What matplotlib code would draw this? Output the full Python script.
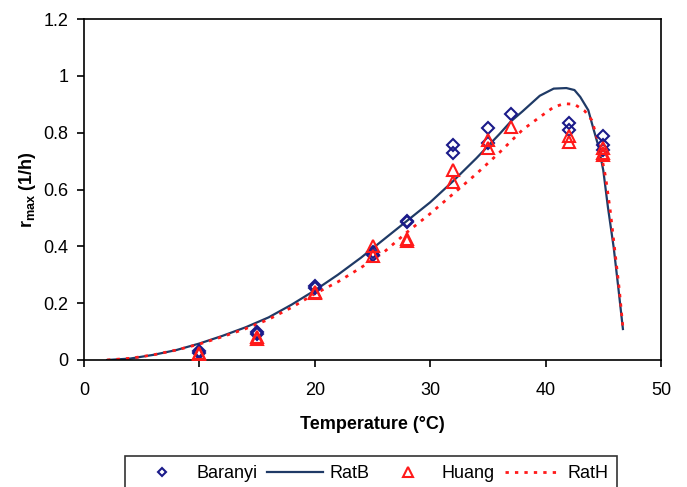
import matplotlib
matplotlib.use("Agg")
import matplotlib.pyplot as plt
from matplotlib.lines import Line2D

# ---- data ----
baranyi_T = [10, 10, 15, 15, 20, 20, 25, 25, 28, 28, 32, 32, 35, 35, 37, 42, 42, 45, 45, 45]
baranyi_r = [0.03, 0.025, 0.10, 0.09, 0.26, 0.255, 0.38, 0.37, 0.49, 0.485,
             0.755, 0.727, 0.815, 0.762, 0.865, 0.833, 0.808, 0.79, 0.755, 0.74]

huang_T = [10, 10, 15, 15, 20, 20, 25, 25, 28, 28, 32, 32, 35, 35, 37, 42, 42, 45, 45, 45]
huang_r = [0.025, 0.02, 0.08, 0.075, 0.24, 0.235, 0.40, 0.365, 0.425, 0.42,
           0.667, 0.625, 0.773, 0.745, 0.82, 0.79, 0.766, 0.745, 0.73, 0.72]

ratB_T = [2, 4, 6, 8, 10, 12, 14, 16, 18, 20, 22, 24, 26, 28, 30, 32, 34, 36, 37, 38,
          39.5, 40.7, 41.8, 42.5, 43.0, 43.7, 44.1, 44.6, 45.0, 45.4, 45.9, 46.3, 46.7]
ratB_r = [0, 0.005, 0.018, 0.035, 0.058, 0.085, 0.115, 0.15, 0.195, 0.245, 0.30, 0.36,
          0.425, 0.49, 0.555, 0.63, 0.71, 0.795, 0.84, 0.875,
          0.93, 0.955, 0.957, 0.95, 0.926, 0.879, 0.82, 0.749, 0.667, 0.538, 0.396, 0.255, 0.109]

ratH_T = [2, 4, 6, 8, 10, 12, 14, 16, 18, 20, 22, 24, 26, 28, 30, 32, 34, 36, 37, 38,
          39.5, 40.7, 41.6, 42.5, 43.4, 44.0, 44.4, 44.8, 45.2, 45.6, 46.0, 46.4, 46.7]
ratH_r = [0, 0.006, 0.018, 0.035, 0.056, 0.082, 0.11, 0.143, 0.185, 0.233, 0.275, 0.325,
          0.38, 0.45, 0.515, 0.585, 0.655, 0.73, 0.77, 0.81,
          0.855, 0.89, 0.902, 0.9, 0.876, 0.844, 0.79, 0.727, 0.644, 0.526, 0.385, 0.243, 0.114]

x_ticks = [0, 10, 20, 30, 40, 50]
y_ticks = [0, 0.2, 0.4, 0.6, 0.8, 1.0, 1.2]
y_ticklabels = ["0", "0.2", "0.4", "0.6", "0.8", "1", "1.2"]
legend_labels = ['Baranyi', 'RatB', 'Huang', 'RatH']

# ---- style ----
plt.rcParams['font.family'] = ['Liberation Sans', 'DejaVu Sans']
plt.rcParams['mathtext.fontset'] = 'custom'
plt.rcParams['mathtext.rm'] = 'Liberation Sans'
plt.rcParams['mathtext.bf'] = 'Liberation Sans:bold'
FS = 13

navy = '#1a1a8a'
line_blue = '#1f3a66'
red = '#ff1a1a'

fig = plt.figure(figsize=(6.87, 4.87), dpi=100)
ax = fig.add_axes([84/687, 1 - 360/487, (661 - 84)/687, (360 - 19)/487])

lB, = ax.plot(ratB_T, ratB_r, color=line_blue, lw=1.6, zorder=2)
lH, = ax.plot(ratH_T, ratH_r, color=red, lw=2.0, linestyle=(0, (1.2, 2.2)), zorder=2)
ax.plot(baranyi_T, baranyi_r, linestyle='none', marker='D', markersize=6.5,
        mfc='none', mec=navy, mew=1.5, zorder=3)
ax.plot(huang_T, huang_r, linestyle='none', marker='^', markersize=8.5,
        mfc='none', mec=red, mew=1.5, zorder=3)

ax.set_xlim(0, 50)
ax.set_ylim(0, 1.2)
ax.set_xticks(x_ticks)
ax.set_yticks(y_ticks)
ax.set_yticklabels(y_ticklabels)
ax.tick_params(direction='out', length=5, width=1.2, labelsize=FS, color='black')
ax.tick_params(axis='x', pad=11)
ax.tick_params(axis='y', pad=6)
for s in ax.spines.values():
    s.set_linewidth(1.2)
    s.set_color('black')

ax.set_xlabel('Temperature (°C)', fontsize=FS, fontweight='bold', labelpad=12)
ax.set_ylabel(r'r$_{\mathbf{max}}$ (1/h)', fontsize=FS, fontweight='bold', labelpad=4)

hB = Line2D([], [], linestyle='none', marker='D', markersize=4.5, mfc='none', mec=navy, mew=1.5)
hH = Line2D([], [], linestyle='none', marker='^', markersize=6.5, mfc='none', mec=red, mew=1.5)
handles = [hB, lB, hH, lH]
leg = fig.legend(handles, legend_labels, loc='upper left', bbox_to_anchor=(125/687, 1 - 456/487),
                 ncol=4, fontsize=FS, frameon=True, fancybox=False, edgecolor='black',
                 handlelength=3.1, handletextpad=0.35, columnspacing=0.55, borderpad=0.5,
                 borderaxespad=0)
leg.get_frame().set_linewidth(1.2)

fig.savefig('out.png', dpi=100)
